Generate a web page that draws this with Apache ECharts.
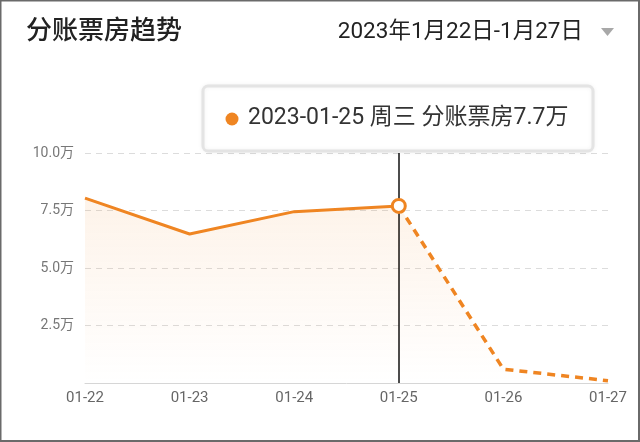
<!DOCTYPE html>
<html><head><meta charset="utf-8">
<script src="https://cdn.jsdelivr.net/npm/echarts@6/dist/echarts.min.js"></script>
<style>html,body{margin:0;padding:0;background:#fff}#c{width:640px;height:442px}</style>
</head><body><div id="c"></div>
<script>
const categories = ['01-22','01-23','01-24','01-25','01-26','01-27'];
const boxOffice = [8.04, 6.48, 7.45, 7.7, 0.6, 0.1]; // 万
const solidCount = 4; // first 4 points solid (actual), rest dashed (forecast)
const highlightIndex = 3;
const highlightDate = '2023-01-25';
const highlightWeekday = '周三';
const yTicks = [0, 2.5, 5.0, 7.5, 10.0];
const titleText = '分账票房趋势';
const rangeText = '2023年1月22日-1月27日';

const ORANGE = '#ef8522';
const FONT = 'Roboto, "Noto Sans CJK SC", "Noto Sans", sans-serif';

const solidData = boxOffice.map((v, i) => {
  if (i >= solidCount) return null;
  if (i === highlightIndex) return {value: v, symbol: 'circle', symbolSize: 13,
    itemStyle: {color: '#fff', borderColor: ORANGE, borderWidth: 3}};
  return v;
});
const dashedData = boxOffice.map((v, i) => i >= solidCount - 1 ? v : null);

const areaGrad = {type: 'linear', x: 0, y: 0, x2: 0, y2: 1, colorStops: [
  {offset: 0, color: 'rgba(239,133,34,0.14)'},
  {offset: 1, color: 'rgba(239,133,34,0.0)'}]};

const chart = echarts.init(document.getElementById('c'));
const tipText = highlightDate + ' ' + highlightWeekday + ' 分账票房' + boxOffice[highlightIndex] + '万';

chart.setOption({
  animation: false,
  textStyle: {fontFamily: FONT},
  grid: {left: 85, right: 32, top: 153, bottom: 59},
  xAxis: {
    type: 'category', data: categories, boundaryGap: false,
    axisLine: {lineStyle: {color: '#d6d6d6', width: 1}},
    axisTick: {show: false},
    axisLabel: {color: '#666', fontSize: 15, margin: 8, fontFamily: FONT}
  },
  yAxis: {
    type: 'value', min: yTicks[0], max: yTicks[yTicks.length - 1], interval: 2.5,
    axisLine: {show: false}, axisTick: {show: false},
    axisLabel: {color: '#777', fontSize: 14, margin: 11, fontFamily: FONT,
      formatter: v => v === 0 ? '' : v.toFixed(1) + '万'},
    splitLine: {lineStyle: {color: '#dcdcdc', type: [6, 5], width: 1}}
  },
  series: [
    {
      type: 'line', data: dashedData, symbol: 'none', z: 2,
      lineStyle: {color: ORANGE, width: 3.5, type: [8, 6]},
      itemStyle: {color: ORANGE},
      areaStyle: {color: areaGrad},
      markLine: {
        silent: true, symbol: 'none', label: {show: false},
        lineStyle: {color: '#111', width: 1.5, type: 'solid'},
        data: [{xAxis: categories[highlightIndex]}]
      }
    },
    {
      type: 'line', data: solidData, symbol: 'none', z: 5,
      lineStyle: {color: ORANGE, width: 3},
      itemStyle: {color: ORANGE},
      areaStyle: {color: areaGrad}
    }
  ],
  graphic: [
    {type: 'rect', shape: {x: 0.5, y: 0.5, width: 638.5, height: 440.5}, silent: true,
     style: {fill: 'none', stroke: '#6a6a6a', lineWidth: 2}, z: 100},
    {type: 'text', x: 26, y: 32,
     style: {text: titleText, font: '500 26px ' + FONT, fill: '#222', verticalAlign: 'middle'}},
    {type: 'text', x: 583, y: 32,
     style: {text: rangeText, font: '22.5px ' + FONT, fill: '#222', align: 'right', verticalAlign: 'middle'}},
    {type: 'polygon', shape: {points: [[601, 28], [614, 28], [607.5, 36]]},
     style: {fill: '#a8a8a8'}},
    {type: 'rect', shape: {x: 203, y: 86, width: 390, height: 65, r: 5}, z: 50,
     style: {fill: '#fff', stroke: '#e4e4e4', lineWidth: 3,
       shadowBlur: 4, shadowColor: 'rgba(0,0,0,0.06)'}},
    {type: 'circle', shape: {cx: 232, cy: 119, r: 6.5}, z: 51, style: {fill: ORANGE}},
    {type: 'text', x: 248, y: 118, z: 51,
     style: {text: tipText, font: '23px ' + FONT, fill: '#333', verticalAlign: 'middle'}}
  ]
});
</script></body></html>
